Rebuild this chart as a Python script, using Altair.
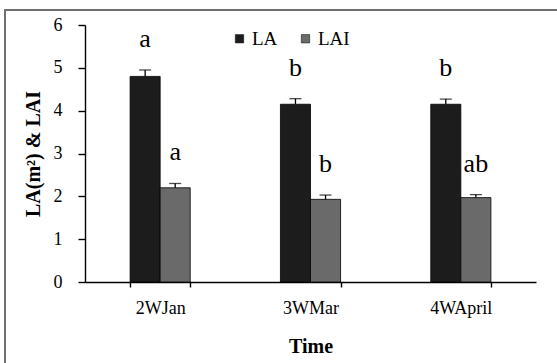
import altair as alt
import pandas as pd

times = ["2WJan", "3WMar", "4WApril"]
series = ["LA", "LAI"]
la_vals = [4.80, 4.15, 4.15]
la_errs = [0.15, 0.13, 0.12]
lai_vals = [2.20, 1.93, 1.97]
lai_errs = [0.10, 0.10, 0.07]
la_letters = ["a", "b", "b"]
lai_letters = ["a", "b", "ab"]
y_ticks = [0, 1, 2, 3, 4, 5, 6]

rows = []
for i, t in enumerate(times):
    rows.append({"Time": t, "Series": "LA", "value": la_vals[i], "err": la_errs[i],
                 "letter": la_letters[i]})
    rows.append({"Time": t, "Series": "LAI", "value": lai_vals[i], "err": lai_errs[i],
                 "letter": lai_letters[i]})
df = pd.DataFrame(rows)

FONT = "Liberation Serif"
W, H = 451, 257

xenc = alt.X("Time:N", sort=times, title="Time",
             scale=alt.Scale(paddingInner=0.6, paddingOuter=0.3),
             axis=alt.Axis(labelAngle=0, tickBand="extent", tickSize=5,
                           labelPadding=12, titleY=70, titleBaseline="alphabetic"))
xoff = alt.XOffset("Series:N", sort=series, scale=alt.Scale(paddingInner=0, paddingOuter=0))
yscale = alt.Scale(domain=[0, 6], nice=False)

base = alt.Chart(df).transform_calculate(top="datum.value + datum.err")

bars = base.mark_bar(stroke="black", strokeWidth=0.8).encode(
    x=xenc,
    xOffset=xoff,
    y=alt.Y("value:Q", scale=yscale, title="LA(m²) & LAI",
            axis=alt.Axis(values=y_ticks, tickSize=7, labelPadding=16, grid=False,
                          titleX=-52, titleY=128.5, titleBaseline="middle",
                          titleAlign="center", titleAngle=270)),
    color=alt.Color("Series:N", sort=series, title=None,
                    scale=alt.Scale(domain=series, range=["#1c1c1c", "#6a6a6a"]),
                    legend=alt.Legend(orient="none", legendX=145, legendY=4,
                                      direction="horizontal", symbolType="square",
                                      symbolSize=70, symbolStrokeColor="black",
                                      symbolStrokeWidth=0.5, labelFont=FONT,
                                      labelFontSize=19, labelColor="black",
                                      columnPadding=18, symbolOffset=0, labelOffset=3)),
)

err_rule = base.mark_rule(color="black", strokeWidth=1.3).encode(
    x=alt.X("Time:N", sort=times),
    xOffset=xoff,
    y=alt.Y("value:Q", scale=yscale),
    y2="top:Q",
)

err_cap = base.mark_tick(color="black", thickness=1.3, size=12).encode(
    x=alt.X("Time:N", sort=times),
    xOffset=xoff,
    y=alt.Y("top:Q", scale=yscale),
)

letters = base.mark_text(font=FONT, fontSize=26, color="black", baseline="alphabetic",
                         dy=-23).encode(
    x=alt.X("Time:N", sort=times),
    xOffset=xoff,
    y=alt.Y("top:Q", scale=yscale),
    text="letter:N",
)

frame = alt.Chart(pd.DataFrame({"k": [0]})).mark_rect(
    fill=None, stroke="#707070", strokeWidth=2
).encode(x=alt.value(-80), x2=alt.value(520), y=alt.value(-15), y2=alt.value(420))

chart = alt.layer(frame, bars, err_rule, err_cap, letters).properties(
    width=W, height=H,
    autosize=alt.AutoSizeParams(type="none"),
    padding={"left": 85, "top": 25, "right": 21, "bottom": 81},
    background="white",
).configure(font=FONT).configure_view(stroke=None).configure_axis(
    labelFont=FONT, labelFontSize=18, labelColor="black",
    titleFont=FONT, titleFontSize=20, titleFontWeight="bold", titleColor="black",
    domainColor="black", domainWidth=1.4, tickColor="black", tickWidth=1.4,
).configure_legend(labelFont=FONT).configure_text(font=FONT)

chart.save("out.html", embed_options={"renderer": "svg", "actions": False})
